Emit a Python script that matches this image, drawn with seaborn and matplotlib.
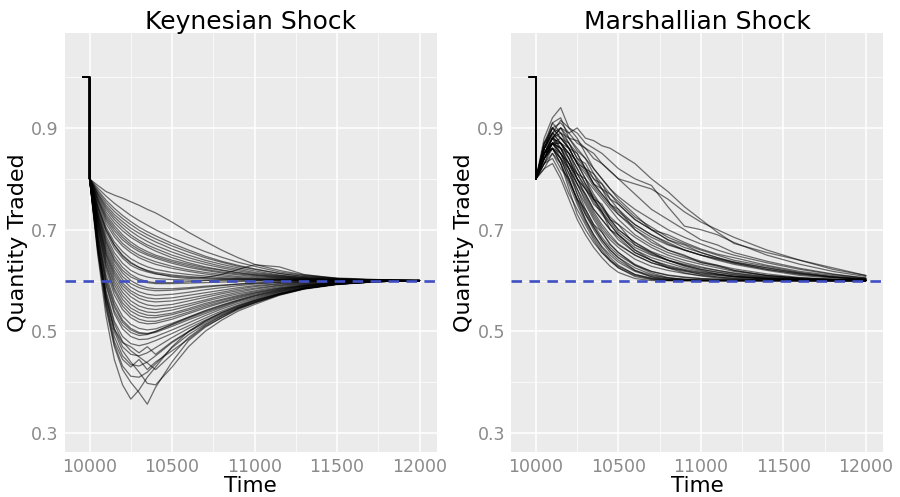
import pandas as pd
import matplotlib
matplotlib.use("Agg")
import matplotlib.pyplot as plt
import seaborn as sns
from matplotlib.ticker import MultipleLocator

# level before the shock and the new equilibrium
pre_t = [9960, 10000]
pre_q = [1.0, 1.0]
eq_level = 0.6

# Keynesian shock runs
keynes_t = [10000, 10050, 10100, 10150, 10200, 10250, 10300, 10350, 10400, 10500,
            10600, 10700, 10800, 10900, 11000, 11150, 11300, 11500, 11750, 12000]
keynes_runs = [
    [.800, .787, .775, .768, .762, .755, .748, .740, .733, .715, .695, .677, .660, .645, .632, .620, .611, .605, .602, .600],
    [.800, .782, .766, .752, .740, .728, .718, .709, .700, .684, .670, .657, .646, .636, .628, .617, .610, .604, .601, .600],
    [.800, .778, .758, .742, .728, .716, .705, .696, .688, .673, .660, .648, .638, .630, .623, .614, .608, .603, .601, .600],
    [.800, .772, .748, .730, .716, .703, .693, .684, .676, .662, .650, .640, .632, .625, .619, .611, .606, .603, .601, .600],
    [.800, .768, .740, .720, .704, .690, .679, .670, .663, .650, .640, .632, .625, .619, .614, .609, .605, .602, .601, .600],
    [.800, .762, .730, .708, .690, .676, .665, .657, .650, .640, .632, .625, .620, .615, .611, .607, .604, .602, .600, .600],
    [.800, .758, .722, .698, .680, .667, .657, .650, .644, .634, .626, .620, .615, .611, .608, .605, .603, .601, .600, .600],
    [.800, .752, .712, .686, .668, .655, .645, .638, .632, .624, .618, .613, .609, .606, .604, .603, .602, .601, .600, .600],
    [.800, .748, .705, .676, .657, .643, .634, .627, .622, .616, .612, .609, .606, .604, .603, .602, .601, .600, .600, .600],
    [.800, .742, .695, .664, .644, .630, .622, .617, .613, .609, .606, .604, .603, .602, .601, .601, .600, .600, .600, .600],
    [.800, .738, .688, .655, .634, .620, .612, .607, .604, .602, .601, .601, .600, .600, .600, .600, .600, .600, .600, .600],
    [.800, .732, .678, .642, .620, .607, .600, .596, .594, .594, .595, .596, .597, .598, .599, .599, .600, .600, .600, .600],
    [.800, .728, .670, .632, .608, .594, .586, .582, .580, .581, .584, .587, .590, .593, .595, .597, .598, .599, .600, .600],
    [.800, .722, .660, .620, .595, .580, .571, .566, .564, .566, .571, .576, .581, .586, .590, .594, .597, .599, .600, .600],
    [.800, .718, .652, .610, .584, .568, .558, .552, .550, .553, .560, .567, .574, .580, .585, .591, .595, .598, .599, .600],
    [.800, .712, .642, .598, .570, .553, .543, .538, .537, .542, .550, .559, .567, .574, .580, .588, .593, .597, .599, .600],
    [.800, .706, .632, .585, .556, .540, .531, .527, .527, .533, .542, .552, .561, .569, .576, .585, .591, .596, .599, .600],
    [.800, .700, .622, .572, .543, .527, .518, .515, .516, .524, .535, .546, .556, .565, .573, .583, .590, .596, .599, .600],
    [.800, .694, .612, .560, .530, .514, .506, .503, .505, .516, .528, .540, .551, .561, .570, .581, .589, .595, .599, .600],
    [.800, .688, .600, .548, .518, .503, .496, .495, .498, .510, .523, .535, .547, .558, .567, .579, .588, .595, .598, .600],
    [.800, .682, .590, .535, .505, .490, .484, .485, .490, .503, .517, .531, .544, .555, .565, .578, .587, .594, .598, .600],
    [.800, .676, .580, .520, .490, .476, .472, .476, .482, .496, .511, .526, .540, .552, .563, .577, .586, .594, .598, .600],
    [.800, .670, .570, .505, .470, .455, .452, .458, .468, .488, .506, .522, .537, .550, .561, .575, .585, .593, .598, .600],
    [.800, .664, .560, .490, .452, .435, .432, .440, .452, .478, .499, .517, .533, .547, .559, .574, .585, .593, .598, .600],
    [.800, .660, .550, .475, .432, .412, .410, .420, .436, .468, .494, .514, .531, .546, .558, .573, .584, .593, .598, .600],
    [.800, .650, .530, .445, .395, .367, .385, .410, .430, .470, .500, .520, .537, .550, .561, .575, .585, .593, .598, .600],
    [.800, .655, .545, .470, .425, .400, .380, .357, .390, .440, .482, .508, .527, .543, .556, .572, .584, .593, .598, .600],
    [.800, .668, .565, .500, .462, .440, .420, .398, .395, .430, .470, .500, .522, .540, .553, .571, .583, .592, .598, .600],
    [.800, .674, .575, .515, .480, .462, .450, .438, .425, .455, .488, .512, .530, .545, .557, .573, .584, .593, .598, .600],
    [.800, .745, .700, .670, .650, .636, .626, .619, .614, .607, .604, .606, .612, .622, .631, .627, .612, .604, .601, .600],
    [.800, .735, .683, .648, .626, .612, .603, .598, .596, .596, .598, .600, .602, .603, .603, .602, .601, .600, .600, .600],
    [.800, .725, .665, .626, .602, .587, .578, .573, .571, .573, .577, .582, .586, .590, .593, .596, .598, .599, .600, .600],
    [.800, .715, .648, .604, .577, .560, .550, .545, .543, .547, .554, .562, .570, .577, .583, .590, .594, .598, .599, .600],
    [.800, .765, .735, .714, .698, .685, .675, .666, .658, .645, .635, .627, .621, .616, .612, .608, .604, .602, .601, .600],
    [.800, .775, .753, .736, .722, .710, .699, .690, .682, .668, .656, .645, .636, .628, .622, .614, .608, .604, .601, .600],
    [.800, .756, .718, .692, .673, .660, .650, .643, .637, .628, .621, .616, .612, .608, .606, .604, .602, .601, .600, .600],
    [.800, .745, .700, .670, .648, .634, .626, .620, .616, .611, .608, .606, .604, .603, .602, .601, .601, .600, .600, .600],
    [.800, .730, .675, .638, .615, .600, .591, .586, .584, .584, .586, .589, .591, .593, .595, .597, .598, .599, .600, .600],
    [.800, .720, .655, .615, .590, .575, .565, .560, .558, .560, .565, .571, .577, .583, .588, .593, .596, .598, .600, .600],
    [.800, .710, .638, .592, .563, .546, .537, .532, .531, .536, .545, .555, .563, .571, .578, .586, .592, .597, .599, .600],
    [.800, .703, .628, .580, .550, .533, .524, .520, .520, .528, .538, .549, .558, .567, .575, .584, .590, .596, .599, .600],
    [.800, .770, .744, .725, .710, .697, .686, .677, .669, .656, .645, .636, .628, .622, .616, .610, .606, .602, .601, .600],
    [.800, .760, .726, .703, .685, .671, .661, .653, .647, .637, .629, .622, .617, .613, .610, .606, .603, .601, .600, .600],
    [.800, .690, .605, .553, .522, .506, .498, .496, .500, .513, .526, .538, .549, .560, .569, .580, .588, .595, .599, .600],
    [.800, .684, .594, .540, .512, .498, .492, .494, .500, .514, .528, .541, .552, .562, .571, .582, .590, .596, .599, .600],
    [.800, .662, .556, .480, .445, .430, .445, .425, .440, .462, .485, .510, .527, .545, .556, .572, .584, .593, .598, .600],
    [.800, .672, .568, .505, .478, .470, .458, .470, .455, .480, .500, .520, .535, .548, .560, .574, .585, .593, .598, .600],
]

# Marshallian shock runs
marsh_t = [10000, 10050, 10100, 10150, 10200, 10250, 10300, 10350, 10400, 10450, 10500,
           10600, 10700, 10800, 10900, 11000, 11100, 11200, 11400, 11600, 11800, 12000]
marsh_runs = [
    [.80, .87, .90, .91, .89, .90, .88, .875, .865, .86, .85, .83, .80, .775, .745, .72, .695, .673, .655, .64, .625, .61],
    [.80, .86, .89, .915, .90, .89, .87, .86, .85, .835, .82, .80, .787, .745, .707, .70, .69, .675, .65, .632, .618, .608],
    [.80, .85, .88, .90, .88, .875, .86, .84, .83, .815, .80, .77, .74, .72, .70, .68, .67, .655, .638, .624, .613, .605],
    [.80, .88, .92, .94, .90, .88, .85, .82, .80, .78, .76, .73, .70, .68, .665, .655, .645, .635, .622, .612, .606, .603],
    [.80, .86, .90, .89, .87, .85, .82, .80, .78, .76, .74, .71, .69, .675, .66, .65, .64, .632, .62, .61, .605, .602],
    [.80, .85, .88, .87, .84, .81, .78, .755, .73, .71, .69, .665, .65, .64, .632, .625, .62, .615, .608, .604, .602, .601],
    [.80, .84, .87, .86, .83, .79, .76, .73, .705, .685, .67, .65, .635, .626, .62, .615, .611, .608, .604, .602, .601, .600],
    [.80, .86, .89, .87, .84, .80, .77, .74, .72, .70, .68, .655, .64, .63, .622, .616, .612, .608, .604, .602, .601, .600],
    [.80, .83, .86, .85, .82, .78, .74, .71, .685, .665, .65, .63, .618, .611, .607, .604, .603, .602, .601, .600, .600, .600],
    [.80, .85, .87, .86, .82, .77, .73, .70, .675, .655, .64, .62, .61, .605, .603, .602, .601, .600, .600, .600, .600, .600],
    [.80, .84, .86, .84, .80, .76, .72, .69, .665, .645, .63, .612, .604, .601, .600, .600, .600, .600, .600, .600, .600, .600],
    [.80, .86, .88, .85, .81, .77, .735, .705, .68, .66, .645, .625, .612, .605, .602, .601, .600, .600, .600, .600, .600, .600],
    [.80, .82, .85, .83, .79, .75, .715, .685, .66, .64, .625, .608, .602, .600, .600, .600, .600, .600, .600, .600, .600, .600],
    [.80, .85, .87, .87, .85, .82, .79, .76, .735, .715, .695, .67, .652, .64, .63, .622, .616, .611, .605, .602, .601, .600],
    [.80, .87, .90, .88, .86, .83, .80, .77, .745, .72, .70, .675, .657, .645, .635, .627, .62, .614, .607, .603, .601, .600],
    [.80, .84, .86, .83, .78, .73, .70, .675, .655, .64, .628, .612, .605, .602, .601, .600, .600, .600, .600, .600, .600, .600],
    [.80, .83, .84, .81, .77, .74, .71, .68, .655, .638, .625, .61, .603, .600, .600, .600, .600, .600, .600, .600, .600, .600],
    [.80, .86, .89, .90, .87, .84, .82, .79, .77, .75, .73, .70, .675, .66, .648, .638, .63, .623, .613, .606, .603, .601],
    [.80, .85, .88, .89, .86, .83, .80, .78, .76, .74, .72, .69, .67, .655, .645, .636, .628, .62, .61, .605, .602, .600],
    [.80, .84, .87, .85, .82, .79, .755, .725, .70, .68, .665, .642, .628, .62, .614, .61, .607, .605, .603, .601, .600, .600],
    [.80, .85, .86, .84, .81, .78, .75, .72, .695, .672, .655, .632, .618, .61, .606, .604, .602, .601, .600, .600, .600, .600],
    [.80, .83, .87, .86, .84, .80, .765, .735, .71, .69, .672, .65, .635, .625, .618, .613, .61, .607, .604, .602, .601, .600],
    [.80, .86, .87, .85, .83, .80, .78, .76, .74, .72, .70, .675, .655, .64, .63, .622, .617, .612, .606, .603, .601, .600],
    [.80, .84, .88, .87, .85, .82, .79, .765, .745, .725, .71, .685, .665, .65, .64, .632, .625, .618, .61, .605, .602, .601],
    [.80, .85, .86, .83, .795, .76, .73, .705, .68, .66, .645, .62, .607, .602, .600, .600, .600, .600, .600, .600, .600, .600],
    [.80, .86, .885, .86, .83, .81, .785, .76, .735, .71, .69, .66, .64, .625, .615, .609, .605, .603, .601, .600, .600, .600],
    [.80, .84, .87, .88, .86, .83, .81, .785, .765, .745, .73, .705, .685, .67, .66, .65, .642, .634, .622, .613, .607, .603],
    [.80, .86, .91, .92, .88, .86, .84, .82, .80, .78, .765, .74, .72, .70, .685, .672, .66, .65, .635, .622, .612, .605],
    [.80, .85, .88, .90, .89, .87, .86, .85, .83, .815, .80, .79, .78, .76, .735, .715, .70, .685, .66, .64, .622, .61],
    [.80, .84, .87, .87, .85, .835, .815, .79, .77, .75, .735, .71, .69, .672, .66, .65, .643, .636, .625, .615, .607, .602],
    [.80, .82, .83, .80, .76, .72, .69, .665, .645, .628, .616, .604, .600, .600, .600, .600, .600, .600, .600, .600, .600, .600],
    [.80, .85, .87, .84, .80, .755, .72, .69, .667, .65, .636, .618, .608, .603, .601, .600, .600, .600, .600, .600, .600, .600],
    [.80, .87, .89, .87, .86, .83, .82, .79, .78, .75, .74, .70, .68, .66, .65, .635, .63, .62, .61, .604, .602, .600],
    [.80, .85, .88, .86, .85, .81, .80, .76, .75, .72, .71, .67, .655, .64, .628, .62, .613, .609, .604, .601, .600, .600],
    [.80, .86, .90, .88, .87, .84, .83, .80, .79, .76, .75, .72, .70, .68, .67, .655, .645, .637, .625, .614, .607, .602],
    [.80, .84, .86, .84, .82, .79, .77, .74, .72, .70, .685, .655, .64, .628, .62, .612, .607, .604, .601, .600, .600, .600],
    [.80, .83, .85, .82, .80, .76, .74, .71, .695, .67, .655, .63, .615, .606, .602, .600, .600, .600, .600, .600, .600, .600],
    [.80, .86, .89, .88, .86, .85, .82, .81, .78, .77, .75, .72, .70, .69, .675, .662, .652, .645, .63, .618, .61, .604],
    [.80, .85, .87, .85, .83, .80, .78, .75, .735, .70, .69, .66, .645, .635, .625, .618, .613, .608, .603, .601, .600, .600],
    [.80, .87, .91, .89, .88, .855, .84, .81, .79, .77, .755, .725, .705, .685, .672, .66, .65, .64, .628, .616, .608, .603],
]


def to_long(t, runs):
    rows = []
    for i, run in enumerate(runs):
        assert len(run) == len(t)
        for x, y in zip(pre_t + t, pre_q + run):
            rows.append((i, x, y))
    return pd.DataFrame(rows, columns=['run', 'Time', 'Quantity'])


panels = [
    ("Keynesian Shock", to_long(keynes_t, keynes_runs)),
    ("Marshallian Shock", to_long(marsh_t, marsh_runs)),
]

sns.set_style("darkgrid", {"axes.facecolor": "#EBEBEB", "grid.color": "white"})
plt.rcParams['font.family'] = ['DejaVu Sans']
plt.rcParams['text.color'] = 'black'
plt.rcParams['axes.labelcolor'] = 'black'

fig = plt.figure(figsize=(9, 4.97), dpi=100)
lefts = [0.072, 0.568]
for (title, df), left in zip(panels, lefts):
    ax = fig.add_axes([left, 0.0905, 0.413, 0.8435])
    sns.lineplot(data=df, x='Time', y='Quantity', units='run', estimator=None,
                 sort=False, color='black', lw=0.9, alpha=0.55, ax=ax)
    ax.axhline(eq_level, color='#3F4FC4', lw=1.9, ls=(0, (4, 2.8)), zorder=5)

    ax.set_xlim(9850, 12103)
    ax.set_ylim(0.263, 1.087)
    ax.set_xticks([10000, 10500, 11000, 11500, 12000])
    ax.set_yticks([0.3, 0.5, 0.7, 0.9])
    ax.xaxis.set_minor_locator(MultipleLocator(250))
    ax.yaxis.set_minor_locator(MultipleLocator(0.1))
    ax.grid(which='major', color='white', lw=1.1)
    ax.grid(which='minor', color='white', lw=0.5)
    ax.set_axisbelow(True)
    for s in ax.spines.values():
        s.set_visible(False)
    ax.tick_params(which='major', length=3, width=0.8, color='#8a8a8a',
                   labelcolor='#8a8a8a', labelsize=12.5, pad=1.5)
    ax.tick_params(which='minor', length=0)

    ax.set_title(title, fontsize=18, pad=3, color='black')
    ax.set_xlabel('Time', fontsize=15.5)
    ax.set_ylabel('Quantity Traded', fontsize=16)
    ax.xaxis.set_label_coords(0.5, -0.057)
    ax.yaxis.set_label_coords(-0.10, 0.5)

fig.savefig('out.png', dpi=100, facecolor='white')
